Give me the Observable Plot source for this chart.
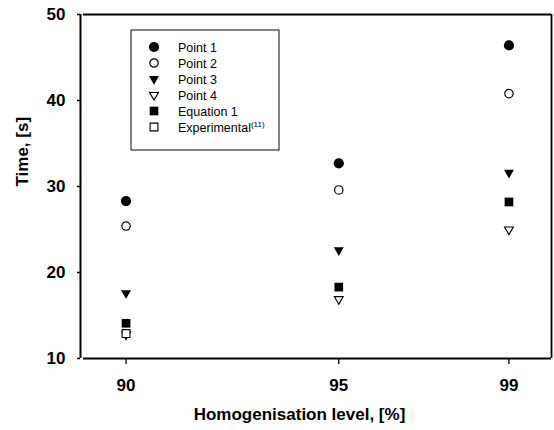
<!DOCTYPE html>
<html><head><meta charset="utf-8">
<script src="https://cdn.jsdelivr.net/npm/d3@7"></script>
<script src="https://cdn.jsdelivr.net/npm/@observablehq/plot@0.6"></script>
<style>body{margin:0;background:#fff} svg{display:block}</style>
</head><body><div id="chart"></div>
<script>
// ---- data ----
const levels = [90, 95, 99];
const point1 = [28.3, 32.7, 46.4];
const point2 = [25.4, 29.6, 40.8];
const point3 = [17.6, 22.6, 31.6];
const point4 = [12.8, 16.9, 25.0];
const equation1 = [14.1, 18.3, 28.2];
const experimental = [12.9];           // only available at 90 %
const seriesNames = ["Point 1", "Point 2", "Point 3", "Point 4", "Equation 1", "Experimental"];
const seriesValues = [point1, point2, point3, point4, equation1, experimental];
const xTicks = [90, 95, 99];
const yTicks = [10, 20, 30, 40, 50];
const xLabel = "Homogenisation level, [%]";
const yLabel = "Time, [s]";

// ---- styles ----
const FONT = "'Liberation Sans', Arial, Helvetica, sans-serif";
const styles = [
  {symbol: "circle",   fill: "black", stroke: "none",  r: 5.1, rotate: 0,   sw: 0},
  {symbol: "circle",   fill: "white", stroke: "black", r: 4.2, rotate: 0,   sw: 1.2},
  {symbol: "triangle", fill: "black", stroke: "none",  r: 3.7, rotate: 180, sw: 0},
  {symbol: "triangle", fill: "white", stroke: "black", r: 3.3, rotate: 180, sw: 1.1},
  {symbol: "square",   fill: "black", stroke: "none",  r: 4.9, rotate: 0,   sw: 0},
  {symbol: "square",   fill: "white", stroke: "black", r: 4.4, rotate: 0,   sw: 1.1}
];

const dotMarks = seriesValues.map((vals, i) => {
  const rows = vals.map((v, j) => ({level: levels[j], time: v, series: seriesNames[i]}));
  const s = styles[i];
  return Plot.dot(rows, {x: "level", y: "time", symbol: s.symbol, fill: s.fill,
    stroke: s.stroke, strokeWidth: s.sw, r: s.r, rotate: s.rotate});
});

const chart = Plot.plot({
  width: 554, height: 430,
  marginLeft: 83, marginRight: 3, marginTop: 14, marginBottom: 72,
  style: {fontFamily: FONT, background: "white", color: "black"},
  x: {domain: [89, 100]},
  y: {domain: [10, 50]},
  marks: [
    Plot.ruleY([50], {stroke: "black", strokeWidth: 1.8}),
    Plot.ruleY([10], {stroke: "black", strokeWidth: 1.8}),
    Plot.ruleX([100], {stroke: "black", strokeWidth: 1.8}),
    Plot.ruleX([89], {stroke: "black", strokeWidth: 2, dx: -3}),
    Plot.axisX({ticks: xTicks, tickFormat: d => String(d), tickSize: 6, tickPadding: 14,
      label: null, fontSize: 17, fontWeight: "bold", strokeWidth: 1.3}),
    Plot.axisY({ticks: yTicks, tickFormat: d => String(d), tickSize: 3, tickPadding: 12, dx: -3,
      label: null, fontSize: 17, fontWeight: "bold", strokeWidth: 1.5}),
    Plot.text([xLabel], {frameAnchor: "bottom", dy: 61, dx: -18, fontSize: 17, fontWeight: "bold", fill: "black"}),
    Plot.text([yLabel], {frameAnchor: "left", dx: -61, rotate: -90, fontSize: 17, fontWeight: "bold", fill: "black"}),
    ...dotMarks
  ]
});
document.getElementById("chart").appendChild(chart);

// ---- legend (inside the plot area) ----
const svg = d3.select(chart);
const lg = svg.append("g").attr("font-family", FONT).attr("text-anchor", "start");
const box = {x: 131, y: 30, w: 148, h: 120};
lg.append("rect").attr("x", box.x).attr("y", box.y).attr("width", box.w).attr("height", box.h)
  .attr("fill", "white").attr("stroke", "#222").attr("stroke-width", 1.1);
const typeMap = {circle: d3.symbolCircle, triangle: d3.symbolTriangle, square: d3.symbolSquare};
seriesNames.forEach((name, i) => {
  const s = styles[i];
  const cy = 47 + i * 16;
  lg.append("path")
    .attr("d", d3.symbol().type(typeMap[s.symbol]).size(s.r * s.r * Math.PI)())
    .attr("transform", `translate(154,${cy}) rotate(${s.rotate})`)
    .attr("fill", s.fill).attr("stroke", s.stroke).attr("stroke-width", s.sw);
  const t = lg.append("text").attr("x", 178).attr("y", cy).attr("dy", "0.36em")
    .attr("text-anchor", "start").attr("font-size", 12.5).attr("fill", "black").text(name);
  if (name === "Experimental") {
    t.append("tspan").attr("font-size", 8).attr("dy", "-0.55em").text("(11)");
  }
});
</script></body></html>
